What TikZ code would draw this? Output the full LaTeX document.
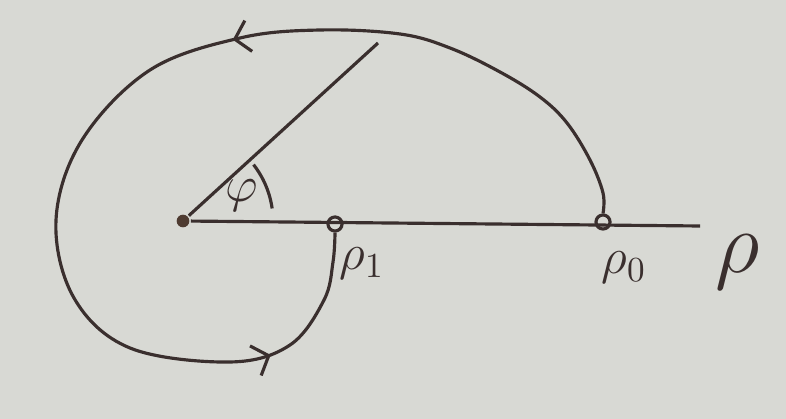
\documentclass[tikz,border=0pt]{standalone}
\usepackage{tikz}
\usetikzlibrary{positioning, calc, arrows.meta, decorations.markings}
\usepackage{xcolor}
\definecolor{PenInk}{HTML}{3A2F2E}
\definecolor{PaperGray}{HTML}{D8D9D4}

\begin{document}
\begin{tikzpicture}[x=0.01cm, y=-0.01cm, line width=0.9pt, draw=PenInk, text=PenInk,
  pole/.style={circle, fill=PenInk!85!brown, inner sep=0pt, minimum size=3.6pt},
  radius mark/.style={circle, draw=PenInk, inner sep=0pt, minimum size=4pt},
  flow/.style={postaction=decorate, decoration={markings,
      mark=at position 0.39 with {\arrow{Straight Barb[length=4pt, width=9pt]}},
      mark=at position 0.875 with {\arrow{Straight Barb[length=4pt, width=9pt]}}}}]
  \fill[PaperGray] (0,0) rectangle (786,419);
  \useasboundingbox (0,0) rectangle (786,419);

  % pole, axis and the two radii
  \node[pole] (origin) at (183,221) {};
  \node[radius mark] (p1) at (335,224) {};
  \node[radius mark] (p0) at (603,222) {};
  \coordinate (axisend) at (700,226);
  \coordinate (rayend) at (378,43);

  \draw (origin) -- (axisend);
  \draw (origin) -- (rayend);
  \draw ($(origin.center)+(-8:90)$) arc[start angle=-8, end angle=-38, radius=92];

  % spiral from rho_0 back to rho_1
  \draw[flow] plot[smooth, tension=0.6] coordinates {(p0.north) (603,193) (590,160)
    (567,123) (540,97) (500,72) (450,48) (400,34) (320,30) (240,38) (150,70)
    (82,140) (56,220) (74,298) (130,348) (230,362) (290,345) (324,300) (333,262)
    (p1.south)};

  \node[font=\Large] (phi) at (242,196) {$\varphi$};
  \node[font=\Large] (rho1) at (362,264) {$\rho_1$};
  \node[font=\Large] (rho0) at (624,268) {$\rho_0$};
  \node[font=\Huge] (rho) at (738,262) {$\rho$};
\end{tikzpicture}
\end{document}
